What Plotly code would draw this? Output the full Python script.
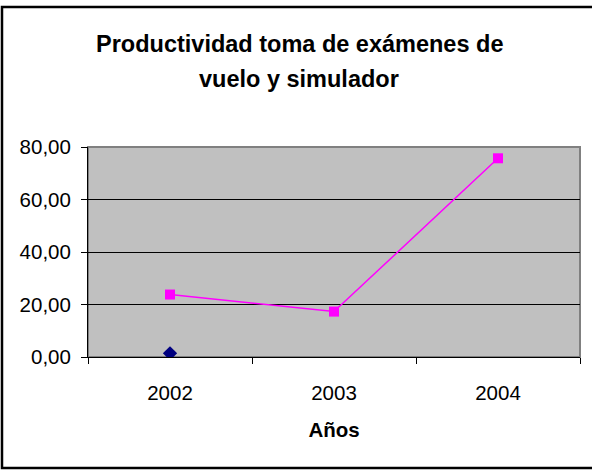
import plotly.graph_objects as go

years = ["2002", "2003", "2004"]
productividad = [23.8, 17.3, 75.7]
serie_azul_years = ["2002"]
serie_azul = [1.4]
y_ticks = [0, 20, 40, 60, 80]
y_tick_labels = ["0,00", "20,00", "40,00", "60,00", "80,00"]
title_lines = ["Productividad toma de exámenes de", "vuelo y simulador"]

FONT = "Liberation Sans, Arial, sans-serif"

fig = go.Figure()
fig.add_trace(
    go.Scatter(
        x=serie_azul_years,
        y=serie_azul,
        mode="markers",
        marker={"symbol": "diamond", "size": 11, "color": "#000080"},
        showlegend=False,
    )
)
fig.add_trace(
    go.Scatter(
        x=years,
        y=productividad,
        mode="lines+markers",
        line={"color": "#FF00FF", "width": 1.5},
        marker={"symbol": "square", "size": 10, "color": "#FF00FF"},
        showlegend=False,
    )
)

# two title lines, placed separately to match the wide line spacing
title_annotations = [
    {
        "text": f"<b>{line}</b>",
        "xref": "paper", "yref": "paper",
        "x": 0.4289, "y": y_pos,
        "xanchor": "center", "yanchor": "middle",
        "showarrow": False,
        "font": {"family": FONT, "size": 23.5, "color": "black"},
    }
    for line, y_pos in zip(title_lines, [1.492, 1.324])
]

fig.update_layout(
    width=592,
    height=470,
    margin={"l": 88, "r": 12, "t": 147, "b": 113},
    paper_bgcolor="white",
    plot_bgcolor="#C0C0C0",
    font={"family": FONT, "size": 20.5, "color": "black"},
    annotations=title_annotations,
    xaxis={
        "type": "category",
        "categoryorder": "array",
        "categoryarray": years,
        "tickson": "boundaries",
        "ticks": "outside",
        "ticklen": 6,
        "tickcolor": "black",
        "ticklabelstandoff": 17,
        "showline": True,
        "linecolor": "black",
        "linewidth": 1,
        "showgrid": False,
        "tickfont": {"size": 20.5},
        "title": {"text": "<b>Años</b>", "font": {"size": 20.5}, "standoff": 20},
        "range": [-0.5, 2.5],
    },
    yaxis={
        "range": [0, 80],
        "tickvals": y_ticks,
        "ticktext": y_tick_labels,
        "ticks": "outside",
        "ticklen": 6,
        "tickcolor": "black",
        "ticklabelstandoff": 6,
        "showline": True,
        "linecolor": "black",
        "linewidth": 1,
        "showgrid": True,
        "gridcolor": "black",
        "gridwidth": 1,
        "zeroline": False,
        "tickfont": {"size": 20.5},
    },
    shapes=[
        # gray frame of the plot area (top and right edges)
        {
            "type": "rect", "xref": "paper", "yref": "paper",
            "x0": 0, "x1": 1, "y0": 0, "y1": 1,
            "line": {"color": "#808080", "width": 2},
            "layer": "below",
        },
        # outer chart border (right side lies outside the visible page)
        {
            "type": "rect", "xref": "paper", "yref": "paper",
            "x0": -0.1748, "x1": 1.1, "y0": -0.5286, "y1": 1.6667,
            "line": {"color": "black", "width": 2.5},
        },
    ],
)

fig.write_html(
    "out.html",
    config={"displayModeBar": False},
    post_script="document.body.style.margin='0';",
)
